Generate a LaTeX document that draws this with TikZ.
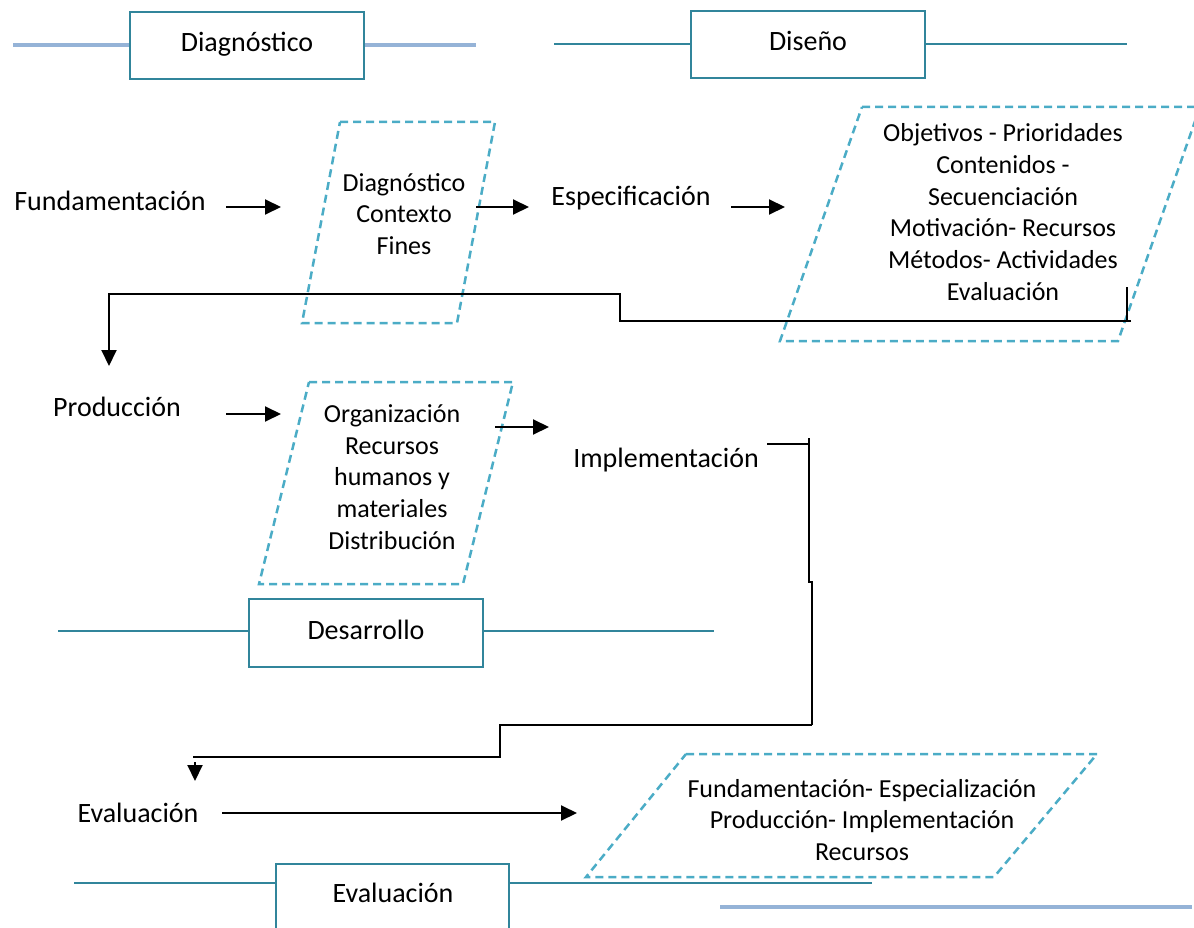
\documentclass[tikz,border=0pt]{standalone}
\usepackage{fontspec}
\setmainfont{Carlito}
\usetikzlibrary{arrows.meta}
\definecolor{lightblue}{RGB}{149,179,215}
\definecolor{tealc}{RGB}{49,133,155}
\definecolor{dashc}{RGB}{75,172,198}
\begin{document}
\begin{tikzpicture}[x=1pt,y=-1pt,
  hdr/.style={draw=tealc,line width=2pt,fill=white,rectangle,inner sep=0pt,
    font=\fontsize{28}{34}\selectfont,text height=19pt,text depth=6pt},
  lbl/.style={font=\fontsize{28}{34}\selectfont,inner sep=0pt,anchor=base},
  ptxt/.style={font=\fontsize{26}{31.8}\selectfont,align=center,inner sep=0pt},
  parbox/.style={draw=dashc,line width=2.5pt,dash pattern=on 8pt off 5pt,line join=miter},
  bline/.style={draw=lightblue,line width=4pt},
  tline/.style={draw=tealc,line width=2pt},
  conn/.style={draw=black,line width=2pt},
  arr/.style={conn,-{Triangle[length=16pt,width=15pt]}}]
\useasboundingbox (0,0) rectangle (1194,928);
\clip (0,0) rectangle (1194,928);

% ---- header boxes ----
\node[hdr,minimum width=234pt,minimum height=67pt] (hdiag) at (247,45.5) {Diagnóstico};
\coordinate (hdiagL) at (13,45.5);
\coordinate (hdiagR) at (476,45.5);
\draw[bline] (hdiagL) -- (hdiag.west);
\draw[bline] (hdiag.east) -- (hdiagR);

\node[hdr,minimum width=234pt,minimum height=67pt] (hdis) at (808,44.5) {Diseño};
\coordinate (hdisL) at (554,44);
\coordinate (hdisR) at (1127,44);
\draw[tline] (hdisL) -- (hdis.west |- hdisL);
\draw[tline] (hdis.east |- hdisR) -- (hdisR);

\node[hdr,minimum width=234pt,minimum height=68pt] (hdes) at (366,633) {Desarrollo};
\coordinate (hdesL) at (58,631);
\coordinate (hdesR) at (714,631);
\draw[tline] (hdesL) -- (hdes.west |- hdesL);
\draw[tline] (hdes.east |- hdesR) -- (hdesR);

\node[hdr,minimum width=233pt,minimum height=110pt] (hev) at (392.5,919) {};
\node[lbl] (hevt) at (393,902) {Evaluación};
\coordinate (hevL) at (74,883);
\coordinate (hevR) at (872,883);
\draw[tline] (hevL) -- (hev.west |- hevL);
\draw[tline] (hev.east |- hevR) -- (hevR);
\coordinate (blL) at (720,907);
\coordinate (blR) at (1192,907);
\draw[bline] (blL) -- (blR);

% ---- parallelograms ----
\draw[parbox] (340,122) -- (495,122) -- (457,323) -- (302,323) -- cycle;
\node[ptxt] (p1) at (404,214) {Diagnóstico\\Contexto\\Fines};

\draw[parbox] (862,107) -- (1200,107) -- (1118,341) -- (780,341) -- cycle;
\node[ptxt] (p2) at (1003,212) {Objetivos - Prioridades\\Contenidos -\\Secuenciación\\Motivación- Recursos\\Métodos- Actividades\\Evaluación};

\draw[parbox] (309,382) -- (513,382) -- (463,584) -- (259,584) -- cycle;
\node[ptxt] (p3) at (392,477) {Organización\\Recursos\\humanos y\\materiales\\Distribución};

\draw[parbox] (686,754) -- (1097,754) -- (994,877) -- (586,877) -- cycle;
\node[ptxt] (p4) at (862,820) {Fundamentación- Especialización\\Producción- Implementación\\Recursos};

% ---- labels ----
\node[lbl] (fund) at (110,211) {Fundamentación};
\node[lbl] (espec) at (631,206) {Especificación};
\node[lbl] (prod) at (117,416) {Producción};
\node[lbl] (impl) at (666,467) {Implementación};
\node[lbl] (eval) at (138,822) {Evaluación};

% ---- arrows ----
\coordinate (a1s) at (226,207); \coordinate (a1e) at (281,207);
\coordinate (a2s) at (476,207); \coordinate (a2e) at (529,207);
\coordinate (a3s) at (731,207); \coordinate (a3e) at (785,207);
\coordinate (a4s) at (226,414); \coordinate (a4e) at (281,414);
\coordinate (a5s) at (495,427); \coordinate (a5e) at (549,427);
\coordinate (a6s) at (222,813); \coordinate (a6e) at (577,813);
\draw[arr] (a1s) -- (a1e);
\draw[arr] (a2s) -- (a2e);
\draw[arr] (a3s) -- (a3e);
\draw[arr] (a4s) -- (a4e);
\draw[arr] (a5s) -- (a5e);
\draw[arr] (a6s) -- (a6e);

% ---- connector: Diseño -> Producción ----
\coordinate (c1s) at (1127,287);
\coordinate (c1a) at (1127,321);
\coordinate (c1b) at (620,321);
\coordinate (c1c) at (620,294);
\coordinate (c1d) at (109,294);
\coordinate (c1e) at (109,366);
\draw[conn] (c1s) -- (c1a);
\draw[conn] (1131,321) -- (c1b) -- (c1c) -- (c1d);
\draw[arr] ([yshift=1pt]c1d) -- (c1e);

% ---- connector: Implementación -> Evaluación ----
\coordinate (c2s) at (767,444);
\coordinate (c2a) at (809,444);
\coordinate (c2b) at (809,438);
\coordinate (c2c) at (809,582);
\coordinate (c2d) at (812,582);
\coordinate (c2e) at (812,725);
\coordinate (c2f) at (500,725);
\coordinate (c2g) at (500,757);
\coordinate (c2h) at (193,757);
\coordinate (c2i) at (195,762);
\coordinate (c2j) at (195,781);
\draw[conn] (c2s) -- (c2a);
\draw[conn] (c2b) -- (c2c) -- (c2d) -- (c2e);
\draw[conn] (c2e) -- (c2f) -- (c2g) -- (c2h);
\draw[arr] (c2i) -- (c2j);
\end{tikzpicture}
\end{document}
